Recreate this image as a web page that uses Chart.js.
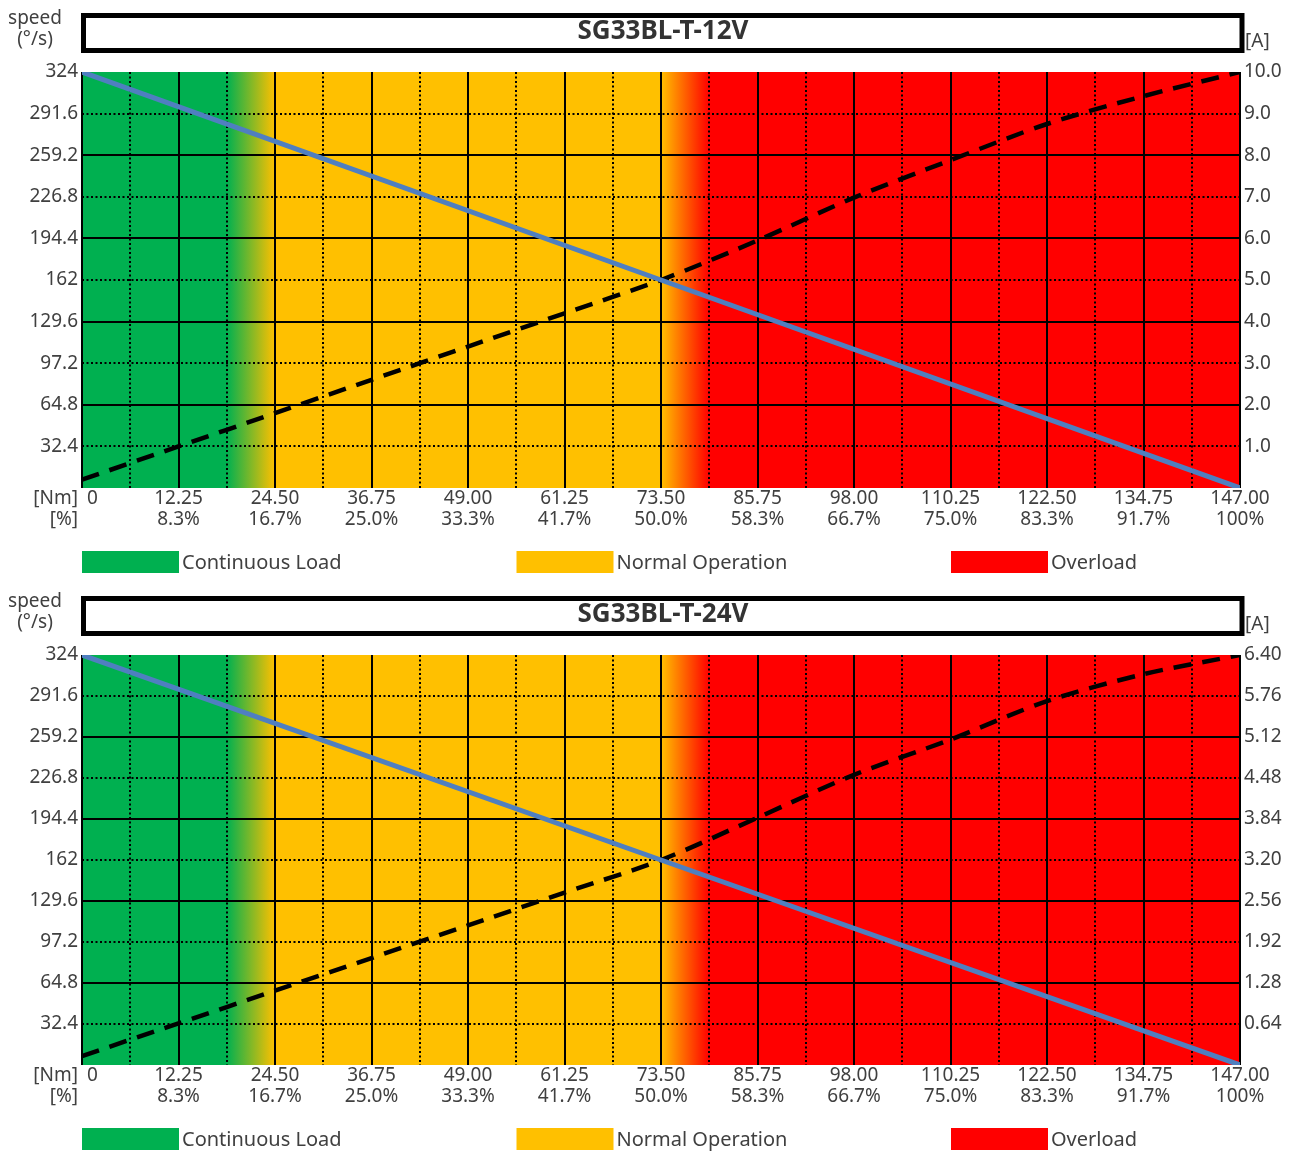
<!DOCTYPE html>
<html>
<head>
<meta charset="utf-8">
<script src="https://cdn.jsdelivr.net/npm/chart.js@4.4.1/dist/chart.umd.min.js"></script>
<style>
  body { margin: 0; background: #fff; }
  canvas { display: block; }
</style>
</head>
<body>
<canvas id="chart12" width="1296" height="583"></canvas>
<canvas id="chart24" width="1296" height="577"></canvas>
<script>
// torque axis (x)
var torqueNm = [0, 12.25, 24.5, 36.75, 49, 61.25, 73.5, 85.75, 98, 110.25, 122.5, 134.75, 147];
var torqueLabels = ['0', '12.25', '24.50', '36.75', '49.00', '61.25', '73.50', '85.75', '98.00', '110.25', '122.50', '134.75', '147.00'];
var torquePct = ['', '8.3%', '16.7%', '25.0%', '33.3%', '41.7%', '50.0%', '58.3%', '66.7%', '75.0%', '83.3%', '91.7%', '100%'];

// speed axis (left)
var speedTicks = [0, 32.4, 64.8, 97.2, 129.6, 162, 194.4, 226.8, 259.2, 291.6, 324];
var speedLabels = ['', '32.4', '64.8', '97.2', '129.6', '162', '194.4', '226.8', '259.2', '291.6', '324'];

// speed line (same for both motors)
var speedTorque = [0, 73.5, 147];
var speedValues = [324, 162, 0];

// current lines, read at each torque tick
var current12 = [0.2, 1.0, 1.8, 2.6, 3.4, 4.2, 5.0, 5.95, 6.98, 7.88, 8.75, 9.42, 10.0];
var current24 = [0.14, 0.65, 1.16, 1.67, 2.18, 2.69, 3.2, 3.86, 4.53, 5.08, 5.68, 6.1, 6.4];

// current axis (right)
var ampTicks12 = [0, 1, 2, 3, 4, 5, 6, 7, 8, 9, 10];
var ampLabels12 = ['', '1.0', '2.0', '3.0', '4.0', '5.0', '6.0', '7.0', '8.0', '9.0', '10.0'];
var ampTicks24 = [0, 0.64, 1.28, 1.92, 2.56, 3.2, 3.84, 4.48, 5.12, 5.76, 6.4];
var ampLabels24 = ['', '0.64', '1.28', '1.92', '2.56', '3.20', '3.84', '4.48', '5.12', '5.76', '6.40'];

// operating zones: fade edges in Nm (green->yellow, yellow->red)
var zoneNames = ['Continuous Load', 'Normal Operation', 'Overload'];
var zoneColors = ['#00b050', '#ffc000', '#ff0000'];
var zoneEdges = [18.375, 24.5, 73.5, 79.625];

var textColor = '#404040';
var fontFamily = "'Noto Sans', 'DejaVu Sans', sans-serif";

// background colours behind the plot
var zonePlugin = {
	id: 'zones',
	beforeDraw: function (chart) {
		var ctx = chart.ctx, area = chart.chartArea, x = chart.scales.x;
		var w = area.right - area.left;
		var g = ctx.createLinearGradient(area.left, 0, area.right, 0);
		function stop(v, c) { g.addColorStop(Math.min(1, Math.max(0, (x.getPixelForValue(v) - area.left) / w)), c); }
		stop(0, zoneColors[0]);
		stop(zoneEdges[0], zoneColors[0]);
		stop(zoneEdges[1], zoneColors[1]);
		stop(zoneEdges[2], zoneColors[1]);
		stop(zoneEdges[3], zoneColors[2]);
		stop(147, zoneColors[2]);
		ctx.save();
		ctx.fillStyle = g;
		ctx.fillRect(area.left, area.top, w, area.bottom - area.top);
		ctx.restore();
	}
};

// solid major / dotted minor grid
var gridPlugin = {
	id: 'grid2',
	beforeDatasetsDraw: function (chart) {
		var ctx = chart.ctx, area = chart.chartArea;
		var x = chart.scales.x, y = chart.scales.ySpeed;
		ctx.save();
		ctx.strokeStyle = '#000';
		ctx.lineWidth = 2;
		function line(x1, y1, x2, y2) { ctx.beginPath(); ctx.moveTo(x1, y1); ctx.lineTo(x2, y2); ctx.stroke(); }
		// dotted
		ctx.setLineDash([2, 2.5]);
		for (var i = 0; i < torqueNm.length - 1; i++) {
			var px = Math.round(x.getPixelForValue((torqueNm[i] + torqueNm[i + 1]) / 2));
			line(px, area.top, px, area.bottom);
		}
		for (var j = 1; j < speedTicks.length - 1; j += 2) {
			var py = Math.round(y.getPixelForValue(speedTicks[j]));
			line(area.left, py, area.right, py);
		}
		// solid
		ctx.setLineDash([]);
		for (var j = 2; j < speedTicks.length - 1; j += 2) {
			var py = Math.round(y.getPixelForValue(speedTicks[j]));
			line(area.left, py, area.right, py);
		}
		for (var i = 0; i < torqueNm.length; i++) {
			var px = Math.round(x.getPixelForValue(torqueNm[i]));
			line(px, area.top, px, area.bottom);
		}
		ctx.restore();
	}
};

// title box, unit labels, legend
var decoPlugin = {
	id: 'deco',
	afterDraw: function (chart) {
		var ctx = chart.ctx, area = chart.chartArea;
		var title = chart.options.plugins.boxTitle;
		ctx.save();
		// title box
		ctx.fillStyle = '#fff';
		ctx.fillRect(area.left, 13, area.right - area.left, 40);
		ctx.strokeStyle = '#000';
		ctx.lineWidth = 5;
		ctx.strokeRect(area.left + 1.5, 15.5, area.right - area.left + 0.5, 35);
		ctx.fillStyle = '#333';
		ctx.font = 'bold 26px ' + fontFamily;
		ctx.textAlign = 'center';
		ctx.textBaseline = 'middle';
		ctx.fillText(title, (area.left + area.right) / 2 + 2, 32);

		ctx.fillStyle = textColor;
		ctx.font = '19px ' + fontFamily;
		ctx.fillText('speed', 35, 19);
		ctx.fillText('(°/s)', 35, 40);
		ctx.textAlign = 'left';
		ctx.fillText('[A]', area.right + 5, 42);
		ctx.fillText('0', area.left + 5, area.bottom + 11);
		ctx.textAlign = 'right';
		ctx.fillText('[Nm]', area.left - 4, area.bottom + 11);
		ctx.fillText('[%]', area.left - 4, area.bottom + 32);

		// legend
		ctx.textAlign = 'left';
		ctx.font = '20px ' + fontFamily;
		for (var i = 0; i < zoneNames.length; i++) {
			var lx = area.left + i * 434.5;
			ctx.fillStyle = zoneColors[i];
			ctx.fillRect(lx, area.bottom + 63, 97, 22);
			ctx.fillStyle = textColor;
			ctx.fillText(zoneNames[i], lx + 100, area.bottom + 75);
		}
		ctx.restore();
	}
};

function drawMotorChart(id, title, currentVals, ampTicks, ampLabels) {
	var speedData = speedTorque.map(function (t, i) { return { x: t, y: speedValues[i] }; });
	var currentData = torqueNm.map(function (t, i) { return { x: t, y: currentVals[i] }; });
	var tickFont = { family: fontFamily, size: 19, lineHeight: 1.1 };
	var noGrid = { display: false, drawTicks: false };

	var config = {
		type: 'line',
		data: {
			datasets: [ {
				label: 'speed',
				data: speedData,
				yAxisID: 'ySpeed',
				borderColor: '#4f7fc0',
				borderWidth: 5,
				pointRadius: 0,
				tension: 0
			}, {
				label: 'current',
				data: currentData,
				yAxisID: 'yAmp',
				borderColor: '#000',
				borderWidth: 4.5,
				borderDash: [18, 11],
				pointRadius: 0,
				tension: 0.3
			} ]
		},
		options: {
			responsive: false,
			animation: false,
			layout: { padding: { top: 72 } },
			plugins: {
				legend: { display: false },
				tooltip: { enabled: false },
				boxTitle: title
			},
			scales: {
				x: {
					type: 'linear',
					min: 0,
					max: 147,
					grid: noGrid,
					border: { display: false },
					afterBuildTicks: function (s) { s.ticks = torqueNm.map(function (v) { return { value: v }; }); },
					afterFit: function (s) { s.height = 95; },
					ticks: {
						padding: 0,
						maxRotation: 0,
						autoSkip: false,
						color: textColor,
						font: tickFont,
						callback: function (v, i) { return i === 0 ? '' : [torqueLabels[i], torquePct[i]]; }
					}
				},
				ySpeed: {
					type: 'linear',
					position: 'left',
					min: 0,
					max: 324,
					grid: noGrid,
					border: { display: false },
					afterBuildTicks: function (s) { s.ticks = speedTicks.map(function (v) { return { value: v }; }); },
					afterFit: function (s) { s.width = 82; },
					ticks: {
						padding: 4,
						color: textColor,
						font: tickFont,
						callback: function (v, i) { return speedLabels[i]; }
					}
				},
				yAmp: {
					type: 'linear',
					position: 'right',
					min: 0,
					max: ampTicks[ampTicks.length - 1],
					grid: noGrid,
					border: { display: false },
					afterBuildTicks: function (s) { s.ticks = ampTicks.map(function (v) { return { value: v }; }); },
					afterFit: function (s) { s.width = 56; },
					ticks: {
						padding: 4,
						color: textColor,
						font: tickFont,
						callback: function (v, i) { return ampLabels[i]; }
					}
				}
			}
		},
		plugins: [zonePlugin, gridPlugin, decoPlugin]
	};

	return new Chart(document.getElementById(id), config);
}

drawMotorChart('chart12', 'SG33BL-T-12V', current12, ampTicks12, ampLabels12);
drawMotorChart('chart24', 'SG33BL-T-24V', current24, ampTicks24, ampLabels24);
</script>
</body>
</html>
